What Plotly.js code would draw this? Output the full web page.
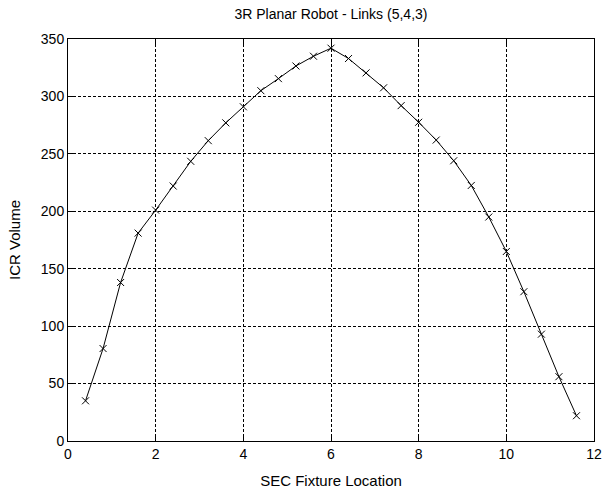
<!DOCTYPE html>
<html>
<head>
<meta charset="utf-8">
<script src="https://cdn.plot.ly/plotly-3.0.1.min.js"></script>
<style>html,body{margin:0;padding:0;background:#fff;}#chart{width:604px;height:491px;}</style>
</head>
<body>
<div id="chart"></div>
<script>
const xLoc = [0.4, 0.8, 1.2, 1.6, 2.0, 2.4, 2.8, 3.2, 3.6, 4.0, 4.4, 4.8, 5.2, 5.6, 6.0,
              6.4, 6.8, 7.2, 7.6, 8.0, 8.4, 8.8, 9.2, 9.6, 10.0, 10.4, 10.8, 11.2, 11.6];
const icrVolume = [35, 80.5, 138, 181, 201, 222, 243.5, 261.5, 277, 291, 305, 315.5, 326.5, 335, 342,
                   333, 320.5, 307.5, 292, 277.5, 262, 244, 222.5, 195, 165, 130, 93, 56, 22];
const xTicks = [0, 2, 4, 6, 8, 10, 12];
const yTicks = [0, 50, 100, 150, 200, 250, 300, 350];

const FONT = 'Liberation Sans, Arial, sans-serif';
const trace = {
  x: xLoc, y: icrVolume, type: 'scatter', mode: 'lines+markers',
  line: {color: '#000', width: 1},
  marker: {symbol: 'x-thin', size: 7, color: '#000', line: {color: '#000', width: 1}},
  showlegend: false
};
const axisCommon = {
  showline: true, linecolor: '#000', linewidth: 1, mirror: 'ticks',
  ticks: 'inside', ticklen: 5, tickcolor: '#000',
  showgrid: true, gridcolor: '#000', gridwidth: 1, griddash: '3px,2px',
  zeroline: false,
  tickfont: {family: FONT, size: 14, color: '#000'}
};
const layout = {
  width: 604, height: 491,
  margin: {l: 68, r: 10, t: 39, b: 50},
  paper_bgcolor: '#fff', plot_bgcolor: '#fff',
  title: {text: '3R Planar Robot - Links (5,4,3)', x: 0.548, xanchor: 'center', y: 0.972, yanchor: 'middle',
          font: {family: FONT, size: 14, color: '#000'}},
  xaxis: Object.assign({}, axisCommon, {
    range: [0, 12], tickvals: xTicks, ticktext: xTicks.map(String),
    title: {text: 'SEC Fixture Location', standoff: 14, font: {family: FONT, size: 15, color: '#000'}}
  }),
  yaxis: Object.assign({}, axisCommon, {
    range: [0, 350], tickvals: yTicks, ticktext: yTicks.map(String),
    title: {text: 'ICR Volume', standoff: 16, font: {family: FONT, size: 15, color: '#000'}}
  })
};
Plotly.newPlot('chart', [trace], layout, {staticPlot: true, displayModeBar: false});
</script>
</body>
</html>
